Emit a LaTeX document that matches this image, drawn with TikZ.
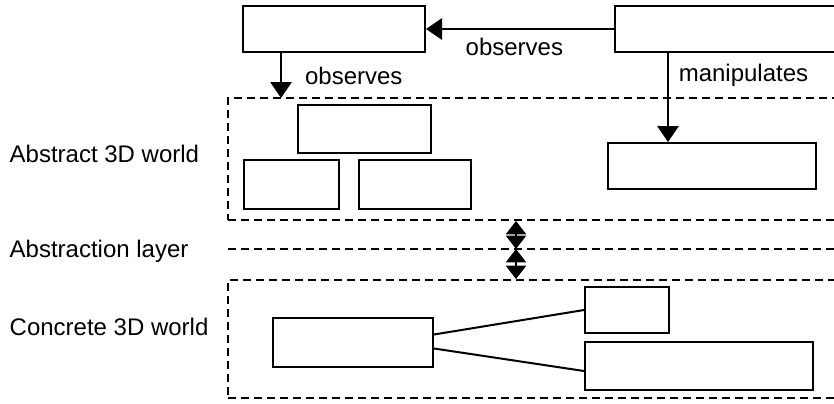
\documentclass[tikz,border=0pt]{standalone}
\usepackage{fontspec}
\setmainfont{Liberation Sans}
\usetikzlibrary{arrows.meta,positioning}

\begin{document}
\begin{tikzpicture}[x=0.75pt, y=-0.75pt, font=\fontsize{18pt}{21pt}\selectfont,
  box/.style={draw, line width=1.5pt, inner sep=0pt},
  region/.style={draw, dash pattern=on 6pt off 3.75pt, line width=1.4pt, inner sep=0pt},
  flow/.style={line width=1.5pt, -{Triangle[length=12pt,width=16pt]}},
  link/.style={line width=1.5pt, {Triangle[length=10pt,width=15pt]}-{Triangle[length=10pt,width=15pt]}}]
  \useasboundingbox (0,0) rectangle (834,403);
  % the two worlds and the layer between them
  \node[region, minimum width=466.5pt, minimum height=91.5pt] (abstract) at (539,159) {};
  \node[region, minimum width=466.5pt, minimum height=88.5pt] (concrete) at (539,339) {};
  \coordinate (layerL) at (228,249);
  \coordinate (layerR) at (850,249);
  \draw[region] (layerL) -- (layerR);
  \node[anchor=base west] (abslbl) at (5,162) {Abstract 3D world};
  \node[anchor=base west] (laylbl) at (5,257) {Abstraction layer};
  \node[anchor=base west] (conlbl) at (5,335) {Concrete 3D world};
  % top row
  \node[box, minimum width=136.5pt, minimum height=34.5pt] (viewer) at (334,29) {};
  \node[box, minimum width=176.25pt, minimum height=34.5pt] (actor) at (732.5,29) {};
  \draw[flow] (actor) -- node[below=3pt, pos=0.53] (obs1) {observes} (viewer);
  \coordinate (viewfoot) at (281,98);
  \draw[flow] (viewer.south -| viewfoot) -- node[right=14pt] (obs2) {observes} (viewfoot);
  % abstract world
  \node[box, minimum width=100pt, minimum height=36pt] (scene) at (364.5,129) {};
  \node[box, minimum width=71.25pt, minimum height=36.75pt] (shape) at (291.5,184.5) {};
  \node[box, minimum width=84pt, minimum height=36.75pt] (light) at (415,184.5) {};
  \node[box, minimum width=156pt, minimum height=34.5pt] (manip) at (712,166) {};
  \coordinate (handle) at ([xshift=-33pt]manip.north);
  \draw[flow] (actor.south -| handle) -- node[right=4pt, pos=0.25] (man) {manipulates} (handle);
  % layer links
  \coordinate (gate) at (516,249);
  \draw[link] (gate |- abstract.south) -- (gate);
  \draw[link] (gate) -- (gate |- concrete.north);
  % concrete world
  \node[box, minimum width=120pt, minimum height=36.75pt] (engine) at (353,342.5) {};
  \node[box, minimum width=63pt, minimum height=34.5pt] (gpu) at (627,310) {};
  \node[box, minimum width=171pt, minimum height=36pt] (driver) at (699,366) {};
  \draw[line width=1.5pt] ([yshift=6pt]engine.east) -- (gpu.west);
  \draw[line width=1.5pt] ([yshift=-4.5pt]engine.east) -- ([yshift=-3.75pt]driver.west);
\end{tikzpicture}
\end{document}
